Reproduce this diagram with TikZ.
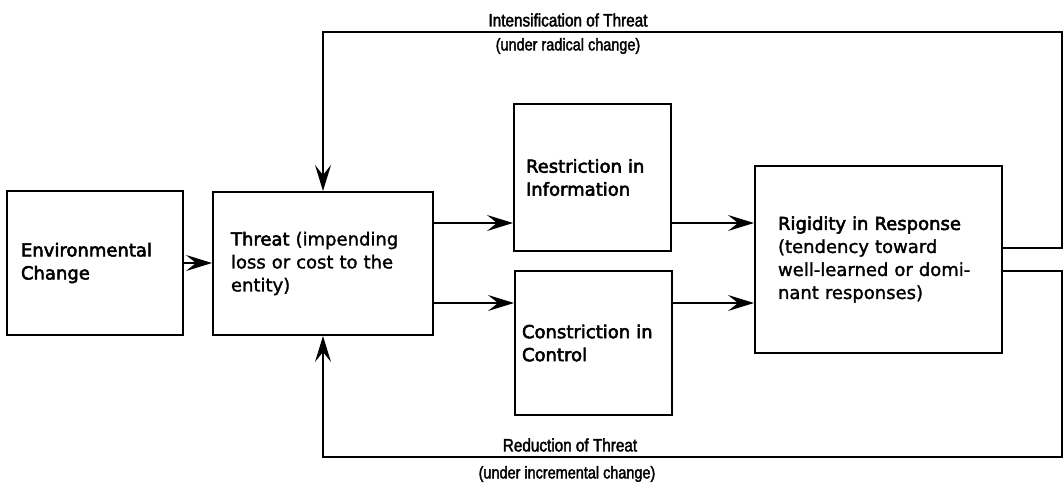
\documentclass[tikz,border=0pt]{standalone}
\usepackage{fontspec}
\setmainfont{DejaVu Sans}[FakeBold=1.5]
\newfontfamily\termfont{DejaVu Sans}[FakeBold=3]
\newfontfamily\labelfont{Liberation Sans}[FakeStretch=0.85, FakeBold=2]
\usetikzlibrary{arrows.meta}

\begin{document}
\begin{tikzpicture}[x=1pt, y=-1pt,
    block/.style={draw, line width=2pt, rectangle, align=left, inner ysep=0pt,
        font=\fontsize{18}{23}\selectfont},
    flow/.style={line width=2pt, -{Stealth[length=26pt, width=16pt, inset=10pt]}},
    heading/.style={font=\labelfont\fontsize{18}{20}\selectfont},
    remark/.style={font=\labelfont\fontsize{17}{20}\selectfont}]
    \useasboundingbox (0,0) rectangle (1063,485);

    % Boxes
    \node[block, minimum width=176pt, minimum height=144pt, inner xsep=14pt, text width=148pt]
        (env) at (95,263) {{\termfont Environmental}\\{\termfont Change}};
    \node[block, minimum width=220pt, minimum height=143pt, inner xsep=18pt, text width=184pt]
        (threat) at (323,263.5) {{\termfont Threat} (impending\\loss or cost to the\\entity)};
    \node[block, minimum width=157pt, minimum height=147pt, inner xsep=12pt, text width=133pt]
        (info) at (592.5,177.5) {\termfont Restriction in\\\termfont Information};
    \node[block, minimum width=157pt, minimum height=144pt, inner xsep=7pt, text width=143pt]
        (control) at (593.5,343) {\termfont Constriction in\\\termfont Control};
    \node[block, minimum width=247pt, minimum height=187pt, inner xsep=23pt, text width=201pt]
        (rigid) at (878.5,259.5) {{\termfont Rigidity in Response}\\(tendency toward\\well-learned or domi-\\nant responses)};

    % Levels of the connectors
    \coordinate (upper) at (0,223);
    \coordinate (lower) at (0,303);
    \coordinate (outtop) at (0,248);
    \coordinate (outbot) at (0,271);
    \coordinate (topline) at (1062,32);
    \coordinate (botline) at (1062,457);

    % Forward arrows
    \draw[flow] (env.east) -- (env.east -| threat.west);
    \draw[flow] (threat.east |- upper) -- (info.west |- upper);
    \draw[flow] (threat.east |- lower) -- (control.west |- lower);
    \draw[flow] (info.east |- upper) -- (rigid.west |- upper);
    \draw[flow] (control.east |- lower) -- (rigid.west |- lower);

    % Feedback loops
    \draw[flow] (rigid.east |- outtop) -| (topline) -| (threat.north);
    \draw[flow] (rigid.east |- outbot) -| (botline) -| (threat.south);

    % Labels of the loops
    \node[heading] (intens) at (568,20) {Intensification of Threat};
    \node[remark] (radical) at (568,46) {(under radical change)};
    \node[heading] (reduct) at (570,445) {Reduction of Threat};
    \node[remark] (incr) at (567,474) {(under incremental change)};
\end{tikzpicture}
\end{document}
